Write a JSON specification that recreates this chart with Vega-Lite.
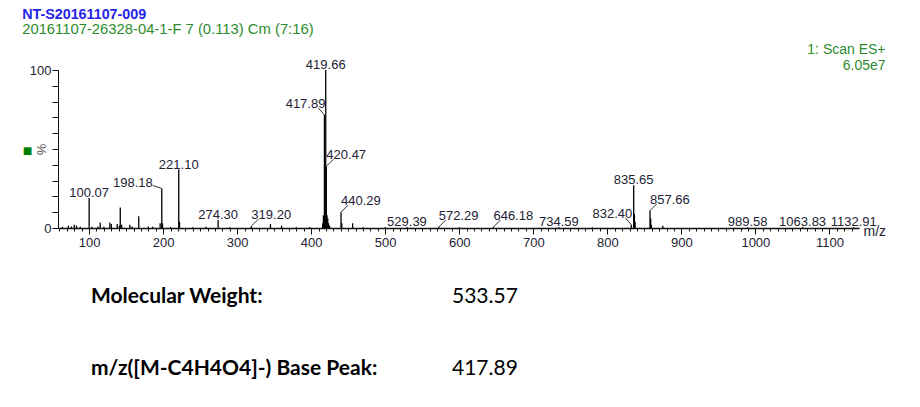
{
  "$schema": "https://vega.github.io/schema/vega-lite/v6.json",
  "background": "white",
  "padding": {"left": 22, "top": 7, "right": 10, "bottom": 0},
  "config": {"view": {"stroke": null}, "font": "Liberation Sans"},
  "title": {
    "text": "NT-S20161107-009",
    "subtitle": "20161107-26328-04-1-F 7 (0.113) Cm (7:16)",
    "anchor": "start",
    "font": "Liberation Sans",
    "fontSize": 14.3,
    "fontWeight": "bold",
    "color": "#2323e8",
    "subtitleFont": "Liberation Sans",
    "subtitleFontSize": 14.8,
    "subtitleColor": "#2e8b2e",
    "subtitlePadding": 0,
    "offset": 6
  },
  "datasets": {
    "peaks": [
      {"mz": 64, "i": 0.8}, {"mz": 72, "i": 1.5}, {"mz": 76, "i": 1}, {"mz": 80, "i": 2}, {"mz": 83, "i": 1.5}, {"mz": 88, "i": 0.8},
      {"mz": 100.07, "i": 19, "label": "100.07"}, {"mz": 104, "i": 0.8}, {"mz": 112, "i": 1}, {"mz": 115, "i": 3.5}, {"mz": 120, "i": 0.8},
      {"mz": 128, "i": 3.5}, {"mz": 130, "i": 2.5}, {"mz": 138, "i": 2.5}, {"mz": 141, "i": 1.5}, {"mz": 142.1, "i": 13}, {"mz": 144, "i": 2},
      {"mz": 155, "i": 2}, {"mz": 158, "i": 1}, {"mz": 167.1, "i": 7.5}, {"mz": 180, "i": 1}, {"mz": 186, "i": 0.8}, {"mz": 196, "i": 3},
      {"mz": 198.18, "i": 25, "label": "198.18"}, {"mz": 199.2, "i": 3}, {"mz": 210, "i": 0.6},
      {"mz": 221.1, "i": 37, "label": "221.10"}, {"mz": 222.1, "i": 4}, {"mz": 240, "i": 0.5}, {"mz": 258, "i": 0.8},
      {"mz": 274.3, "i": 5, "label": "274.30"}, {"mz": 290, "i": 0.5}, {"mz": 319.2, "i": 1.2, "label": "319.20"},
      {"mz": 345, "i": 2.5}, {"mz": 360, "i": 1.5}, {"mz": 380, "i": 0.5}, {"mz": 398, "i": 0.6},
      {"mz": 415.5, "i": 3}, {"mz": 416.5, "i": 8}, {"mz": 417.89, "i": 71.5, "label": "417.89"}, {"mz": 418.8, "i": 9},
      {"mz": 419.66, "i": 100, "label": "419.66"}, {"mz": 420.47, "i": 39, "label": "420.47"}, {"mz": 421.4, "i": 8},
      {"mz": 422.4, "i": 6}, {"mz": 423.5, "i": 3}, {"mz": 425, "i": 1.5},
      {"mz": 440.29, "i": 10, "label": "440.29"}, {"mz": 441.3, "i": 3}, {"mz": 456, "i": 3}, {"mz": 470, "i": 0.5}, {"mz": 500, "i": 0.5},
      {"mz": 529.39, "i": 0.6, "label": "529.39"}, {"mz": 572.29, "i": 0.6, "label": "572.29"}, {"mz": 600, "i": 0.4},
      {"mz": 646.18, "i": 0.6, "label": "646.18"}, {"mz": 734.59, "i": 0.5, "label": "734.59"}, {"mz": 780, "i": 0.4},
      {"mz": 832.4, "i": 2, "label": "832.40"}, {"mz": 835.65, "i": 27, "label": "835.65"}, {"mz": 836.6, "i": 9}, {"mz": 837.6, "i": 4},
      {"mz": 857.66, "i": 11, "label": "857.66"}, {"mz": 858.6, "i": 6}, {"mz": 859.6, "i": 2}, {"mz": 875, "i": 1.5},
      {"mz": 989.58, "i": 0.5, "label": "989.58"}, {"mz": 1063.83, "i": 0.5, "label": "1063.83"}, {"mz": 1132.91, "i": 0.5, "label": "1132.91"}
    ],
    "info": [
      {"row": 1, "label": "Molecular Weight:", "value": "533.57"},
      {"row": 2, "label": "m/z([M-C4H4O4]-) Base Peak:", "value": "417.89"}
    ]
  },
  "spacing": 20,
  "vconcat": [
    {
      "width": 801,
      "height": 158,
      "title": {
        "text": "1: Scan ES+",
        "subtitle": "6.05e7",
        "anchor": "end",
        "font": "Liberation Sans",
        "fontSize": 14,
        "fontWeight": "normal",
        "color": "#2e8b2e",
        "subtitleFont": "Liberation Sans",
        "subtitleFontSize": 14,
        "subtitleColor": "#2e8b2e",
        "subtitlePadding": 2,
        "offset": -14
      },
      "data": {"name": "peaks"},
      "layer": [
        {
          "layer": [
            {
              "mark": {"type": "rule", "color": "black", "strokeWidth": 1.3},
              "encoding": {
                "x": {
                  "field": "mz", "type": "quantitative",
                  "scale": {"domain": [58, 1140], "nice": false, "zero": false},
                  "axis": {
                    "values": [60,70,80,90,100,110,120,130,140,150,160,170,180,190,200,210,220,230,240,250,260,270,280,290,300,310,320,330,340,350,360,370,380,390,400,410,420,430,440,450,460,470,480,490,500,510,520,530,540,550,560,570,580,590,600,610,620,630,640,650,660,670,680,690,700,710,720,730,740,750,760,770,780,790,800,810,820,830,840,850,860,870,880,890,900,910,920,930,940,950,960,970,980,990,1000,1010,1020,1030,1040,1050,1060,1070,1080,1090,1100,1110,1120,1130],
                    "tickCount": 500,
                    "labelExpr": "datum.value % 100 === 0 ? datum.label : ''",
                    "format": "d",
                    "grid": false,
                    "domainColor": "#111",
                    "domainWidth": 1.5,
                    "tickColor": "#111",
                    "tickSize": {"condition": {"test": "datum.value % 100 === 0", "value": 6}, "value": 3},
                    "labelFontSize": 13,
                    "labelColor": "#222233",
                    "labelPadding": 2,
                    "labelFlush": false,
                    "labelOverlap": false,
                    "labelBound": false,
                    "title": "m/z",
                    "titleFontSize": 14,
                    "titleFontWeight": "normal",
                    "titleColor": "#222233",
                    "titleAnchor": "start",
                    "titleAlign": "left",
                    "titleBaseline": "middle",
                    "titleX": 805,
                    "titleY": 3
                  }
                },
                "y": {
                  "field": "i", "type": "quantitative",
                  "scale": {"domain": [0, 100], "nice": false},
                  "axis": {
                    "values": [0,10,20,30,40,50,60,70,80,90,100],
                    "tickCount": 100,
                    "labelExpr": "datum.value === 0 || datum.value === 100 ? datum.label : ''",
                    "grid": false,
                    "domainColor": "#111",
                    "tickColor": "#111",
                    "tickSize": 6,
                    "labelFontSize": 13,
                    "labelColor": "#222233",
                    "labelPadding": 1,
                    "labelOverlap": false,
                    "labelBound": false,
                    "labelFlush": false,
                    "title": "%",
                    "titleFontSize": 13,
                    "titleFontWeight": "normal",
                    "titleColor": "#555",
                    "titleAlign": "center",
                    "titleBaseline": "middle",
                    "titleX": -17,
                    "titleY": 79
                  }
                },
                "y2": {"datum": 0}
              }
            },
            {
              "transform": [{"filter": {"field": "label", "oneOf": ["100.07","221.10","274.30","419.66","529.39","734.59","835.65","989.58","1063.83","1132.91"]}}],
              "mark": {"type": "text", "align": "center", "baseline": "bottom", "dy": 2, "fontSize": 13, "color": "#222233"},
              "encoding": {
                "x": {"field": "mz", "type": "quantitative"},
                "y": {"field": "i", "type": "quantitative"},
                "text": {"field": "label"}
              }
            },
            {
              "transform": [{"filter": {"field": "label", "oneOf": ["417.89","832.40"]}}],
              "mark": {"type": "text", "align": "right", "baseline": "bottom", "dx": 1, "dy": -4, "fontSize": 13, "color": "#222233"},
              "encoding": {
                "x": {"field": "mz", "type": "quantitative"},
                "y": {"field": "i", "type": "quantitative"},
                "text": {"field": "label"}
              }
            },
            {
              "transform": [{"filter": {"field": "label", "oneOf": ["417.89","832.40"]}}],
              "mark": {"type": "rule", "color": "#333", "strokeWidth": 1, "x2Offset": -6, "y2Offset": -7},
              "encoding": {
                "x": {"field": "mz", "type": "quantitative"},
                "y": {"field": "i", "type": "quantitative"},
                "x2": {"field": "mz"},
                "y2": {"field": "i"}
              }
            },
            {
              "transform": [{"filter": {"field": "label", "equal": "198.18"}}],
              "mark": {"type": "text", "align": "right", "baseline": "bottom", "dx": -9, "dy": 1, "fontSize": 13, "color": "#222233"},
              "encoding": {
                "x": {"field": "mz", "type": "quantitative"},
                "y": {"field": "i", "type": "quantitative"},
                "text": {"field": "label"}
              }
            },
            {
              "transform": [{"filter": {"field": "label", "equal": "198.18"}}],
              "mark": {"type": "rule", "color": "#333", "strokeWidth": 1, "x2Offset": -9, "y2Offset": -3},
              "encoding": {
                "x": {"field": "mz", "type": "quantitative"},
                "y": {"field": "i", "type": "quantitative"},
                "x2": {"field": "mz"},
                "y2": {"field": "i"}
              }
            },
            {
              "transform": [{"filter": {"field": "label", "oneOf": ["319.20","420.47","440.29","572.29","646.18","857.66"]}}],
              "mark": {"type": "text", "align": "left", "baseline": "bottom", "dx": 0, "dy": -4, "fontSize": 13, "color": "#222233"},
              "encoding": {
                "x": {"field": "mz", "type": "quantitative"},
                "y": {"field": "i", "type": "quantitative"},
                "text": {"field": "label"}
              }
            },
            {
              "transform": [{"filter": {"field": "label", "oneOf": ["319.20","420.47","440.29","572.29","646.18","857.66"]}}],
              "mark": {"type": "rule", "color": "#333", "strokeWidth": 1, "x2Offset": 7, "y2Offset": -7},
              "encoding": {
                "x": {"field": "mz", "type": "quantitative"},
                "y": {"field": "i", "type": "quantitative"},
                "x2": {"field": "mz"},
                "y2": {"field": "i"}
              }
            }
          ]
        },
        {
          "mark": {"type": "point", "opacity": 0},
          "encoding": {
            "y": {
              "field": "i", "type": "quantitative",
              "scale": {"domain": [0, 100], "nice": false},
              "axis": {
                "orient": "left",
                "domain": false, "ticks": false, "labels": false, "grid": false,
                "title": "■",
                "titleFontSize": 16,
                "titleColor": "#008000",
                "titleAngle": 0,
                "titleAlign": "center",
                "titleBaseline": "middle",
                "titlePadding": 0,
                "titleX": -31,
                "titleY": 80
              }
            }
          }
        }
      ],
      "resolve": {"scale": {"y": "independent"}, "axis": {"y": "independent"}}
    },
    {
      "width": 801,
      "height": 128,
      "data": {"name": "info"},
      "transform": [{"fold": ["label", "value"], "as": ["key", "txt"]}],
      "encoding": {
        "x": {"field": "key", "type": "nominal", "scale": {"type": "point", "domain": ["label", "value"], "range": [33, 394], "padding": 0}, "axis": null},
        "y": {"field": "row", "type": "ordinal", "scale": {"type": "point", "padding": 0.4}, "axis": null},
        "text": {"field": "txt"}
      },
      "layer": [
        {
          "transform": [{"filter": "datum.key === 'label'"}],
          "mark": {"type": "text", "align": "left", "baseline": "middle", "font": "Lato", "fontSize": 21, "fontWeight": "bold", "color": "black"}
        },
        {
          "transform": [{"filter": "datum.key === 'value'"}],
          "mark": {"type": "text", "align": "left", "baseline": "middle", "font": "Lato", "fontSize": 21, "fontWeight": "normal", "color": "black"}
        }
      ]
    }
  ]
}
